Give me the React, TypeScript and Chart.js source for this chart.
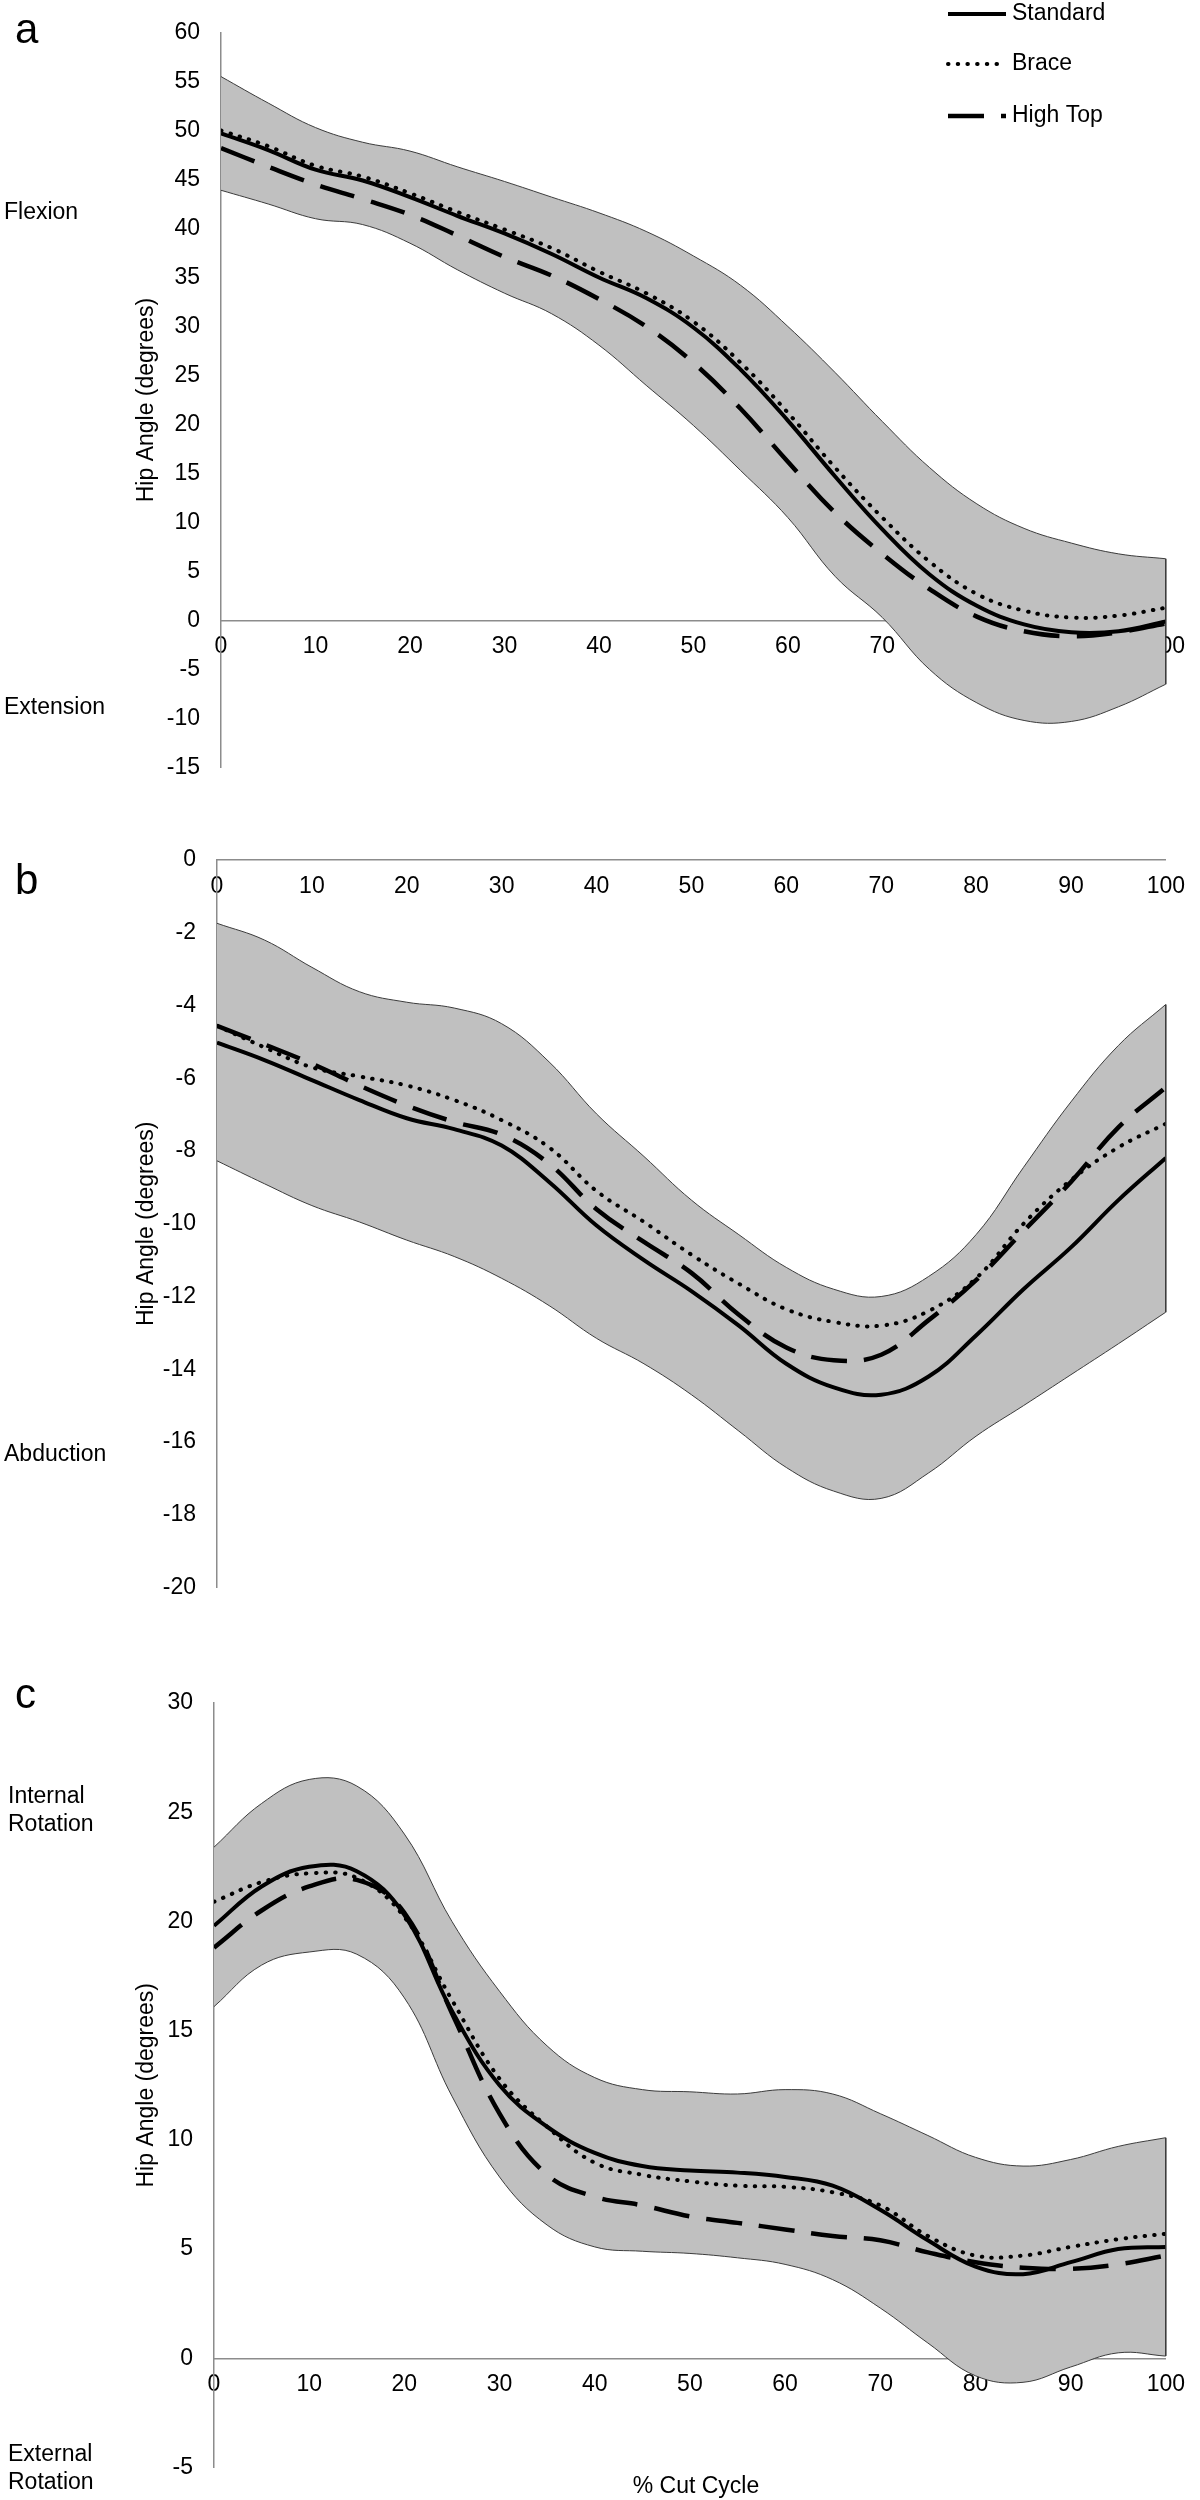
import React, { useEffect, useRef } from "react";
import { Chart, registerables } from "chart.js";

Chart.register(...registerables);

const FONT = "'Liberation Sans', Arial, Helvetica, sans-serif";
Chart.defaults.color = "#000";
Chart.defaults.font.family = FONT;

// % of cut cycle (x values)
const CYCLE = [0, 5, 10, 15, 20, 25, 30, 35, 40, 45, 50, 55, 60, 65, 70, 75, 80, 85, 90, 95, 100];
const SERIES_LABELS = ["Standard", "Brace", "High Top"];

// Panel a: flexion / extension
const A_STANDARD = [49.7, 48.0, 46.0, 44.9, 43.2, 41.3, 39.5, 37.4, 35.0, 32.9, 29.9, 25.6, 20.4, 14.7, 9.3, 4.7, 1.5, -0.4, -1.2, -1.1, -0.1];
const A_BRACE = [50.0, 48.4, 46.4, 45.3, 43.6, 41.7, 39.9, 38.0, 35.6, 33.4, 30.5, 26.3, 21.2, 15.6, 10.5, 6.0, 2.7, 1.0, 0.3, 0.5, 1.3];
const A_HIGHTOP = [48.2, 46.3, 44.5, 43.0, 41.4, 39.3, 37.1, 35.2, 32.8, 30.0, 26.3, 21.6, 16.2, 11.0, 6.8, 3.2, 0.4, -1.1, -1.6, -1.2, -0.3];
const A_UPPER = [55.5, 52.8, 50.3, 48.8, 47.9, 46.3, 44.8, 43.2, 41.6, 39.7, 37.2, 34.2, 30.0, 25.3, 20.3, 15.6, 11.9, 9.4, 7.9, 6.8, 6.3];
const A_LOWER = [43.9, 42.5, 41.0, 40.4, 38.5, 35.8, 33.4, 31.3, 28.1, 24.0, 19.9, 15.3, 10.5, 4.5, 0.3, -5.0, -8.4, -10.2, -10.3, -8.8, -6.5];

// Panel b: abduction / adduction
const B_STANDARD = [-5.02, -5.5, -6.05, -6.6, -7.1, -7.4, -7.85, -8.85, -10.05, -11.0, -11.85, -12.8, -13.85, -14.5, -14.7, -14.2, -13.07, -11.8, -10.65, -9.35, -8.19];
const B_BRACE = [-4.56, -5.15, -5.7, -5.95, -6.2, -6.6, -7.15, -7.9, -9.1, -9.95, -10.85, -11.65, -12.35, -12.7, -12.8, -12.4, -11.5, -10.0, -8.8, -7.9, -7.25];
const B_HIGHTOP = [-4.56, -5.07, -5.6, -6.2, -6.75, -7.2, -7.55, -8.35, -9.6, -10.5, -11.35, -12.5, -13.4, -13.75, -13.6, -12.65, -11.55, -10.2, -8.85, -7.35, -6.25];
const B_UPPER = [-1.74, -2.2, -2.95, -3.62, -3.91, -4.07, -4.5, -5.55, -6.98, -8.15, -9.35, -10.3, -11.2, -11.8, -12.0, -11.45, -10.3, -8.45, -6.65, -5.1, -3.97];
const B_LOWER = [-8.27, -8.9, -9.5, -9.95, -10.45, -10.9, -11.5, -12.25, -13.15, -13.85, -14.7, -15.7, -16.7, -17.35, -17.55, -16.85, -15.84, -15.0, -14.15, -13.3, -12.43];

// Panel c: internal / external rotation
const C_STANDARD = [19.8, 21.6, 22.5, 22.3, 20.3, 15.9, 12.5, 10.6, 9.4, 8.8, 8.6, 8.5, 8.3, 7.9, 6.8, 5.4, 4.2, 3.85, 4.4, 5.0, 5.1];
const C_BRACE = [20.9, 21.8, 22.2, 22.0, 20.2, 16.4, 12.8, 10.6, 8.95, 8.4, 8.1, 7.9, 7.85, 7.6, 7.0, 5.6, 4.7, 4.7, 5.1, 5.45, 5.7];
const C_HIGHTOP = [18.8, 20.5, 21.6, 21.9, 20.4, 15.8, 11.2, 8.4, 7.4, 7.0, 6.5, 6.2, 5.9, 5.6, 5.4, 4.85, 4.4, 4.15, 4.1, 4.3, 4.7];
const C_UPPER = [23.4, 25.4, 26.5, 26.2, 24.0, 20.0, 16.8, 14.3, 12.85, 12.3, 12.2, 12.1, 12.3, 12.1, 11.2, 10.2, 9.2, 8.8, 9.1, 9.7, 10.1];
const C_LOWER = [16.1, 18.0, 18.6, 18.5, 16.5, 12.0, 8.3, 6.1, 5.1, 4.9, 4.8, 4.6, 4.3, 3.6, 2.3, 0.7, -0.8, -1.1, -0.4, 0.25, 0.1];

const LINE_STYLES = [
  { borderDash: [] as number[], borderWidth: 4, borderCapStyle: "butt" },
  { borderDash: [0.5, 9.2], borderWidth: 4, borderCapStyle: "round" },
  { borderDash: [36, 17], borderWidth: 4.5, borderCapStyle: "butt" },
];

type TextItem = {
  text: string;
  x: number;
  y: number;
  size: number;
  align?: CanvasTextAlign;
  baseline?: CanvasTextBaseline;
};

type PanelSpec = {
  top: number;
  height: number;
  padTop: number;
  padBottom: number;
  padRight: number;
  axisX: number;
  yMin: number;
  yMax: number;
  yStep: number;
  means: number[][];
  upper: number[];
  lower: number[];
  texts: TextItem[];
  legend: boolean;
};

const pts = (vals: number[]) => CYCLE.map((x, i) => ({ x, y: vals[i] }));

function makeOverlay(spec: PanelSpec) {
  return {
    id: "overlay",
    afterDatasetsDraw(chart: any) {
      const ctx = chart.ctx;
      const lo = chart.getDatasetMeta(3);
      const up = chart.getDatasetMeta(4);
      const pl = lo.data[lo.data.length - 1];
      const pu = up.data[up.data.length - 1];
      ctx.save();
      ctx.beginPath();
      ctx.moveTo(pu.x, pu.y);
      ctx.lineTo(pl.x, pl.y);
      ctx.strokeStyle = "#333";
      ctx.lineWidth = 1.5;
      ctx.stroke();
      ctx.restore();
    },
    afterDraw(chart: any) {
      const ctx = chart.ctx;
      ctx.save();
      ctx.fillStyle = "#000";
      for (const t of spec.texts) {
        ctx.font = `${t.size}px ${FONT}`;
        ctx.textAlign = t.align || "left";
        ctx.textBaseline = t.baseline || "middle";
        ctx.fillText(t.text, t.x, t.y);
      }
      if (spec.legend) {
        const rowsY = [14, 64, 116];
        for (let i = 0; i < 3; i++) {
          const ds = chart.data.datasets[i];
          const y = rowsY[i];
          ctx.beginPath();
          ctx.setLineDash(ds.borderDash || []);
          ctx.lineCap = ds.borderCapStyle || "butt";
          ctx.lineWidth = ds.borderWidth;
          ctx.strokeStyle = "#000";
          ctx.moveTo(948, y);
          ctx.lineTo(1006, y);
          ctx.stroke();
          ctx.setLineDash([]);
          ctx.font = `23px ${FONT}`;
          ctx.textAlign = "left";
          ctx.textBaseline = "middle";
          ctx.fillText(ds.label, 1012, y);
        }
      }
      ctx.restore();
    },
  };
}

function buildConfig(spec: PanelSpec): any {
  const tickFont = { family: FONT, size: 23, lineHeight: 1 };
  const border = { display: true, color: "#8c8c8c", width: 1.5 };
  const common = { pointRadius: 0, tension: 0.4 };
  return {
    type: "line",
    data: {
      datasets: [
        ...SERIES_LABELS.map((label, i) => ({
          label,
          data: pts(spec.means[i]),
          borderColor: "#000",
          ...LINE_STYLES[i],
          ...common,
          fill: false,
        })),
        {
          label: "Lower SD",
          data: pts(spec.lower),
          borderColor: "#3c3c3c",
          borderWidth: 1,
          ...common,
          fill: false,
        },
        {
          label: "Upper SD",
          data: pts(spec.upper),
          borderColor: "#3c3c3c",
          borderWidth: 1,
          ...common,
          fill: "-1",
          backgroundColor: "#c0c0c0",
        },
      ],
    },
    options: {
      responsive: false,
      animation: false,
      devicePixelRatio: 1,
      events: [],
      layout: {
        padding: { left: 0, right: spec.padRight, top: spec.padTop, bottom: spec.padBottom },
      },
      plugins: { legend: { display: false }, tooltip: { enabled: false } },
      scales: {
        x: {
          type: "linear",
          min: 0,
          max: 100,
          position: { y: 0 },
          ticks: { stepSize: 10, font: tickFont, color: "#000", padding: 15, maxRotation: 0, autoSkip: false },
          grid: { display: false, drawTicks: false },
          border,
        },
        y: {
          type: "linear",
          position: "left",
          min: spec.yMin,
          max: spec.yMax,
          ticks: { stepSize: spec.yStep, font: tickFont, color: "#000", padding: 21, autoSkip: false },
          grid: { display: false, drawTicks: false },
          border,
          title: {
            display: true,
            text: "Hip Angle (degrees)",
            color: "#000",
            font: { family: FONT, size: 23 },
            padding: { top: 133, bottom: 0 },
          },
          afterFit: (s: any) => {
            s.width = spec.axisX;
          },
        },
      },
    },
    plugins: [makeOverlay(spec)],
  };
}

const PANELS: PanelSpec[] = [
  {
    top: 0,
    height: 800,
    padTop: 12,
    padBottom: 27,
    padRight: 22,
    axisX: 221,
    yMin: -15,
    yMax: 60,
    yStep: 5,
    means: [A_STANDARD, A_BRACE, A_HIGHTOP],
    upper: A_UPPER,
    lower: A_LOWER,
    legend: true,
    texts: [
      { text: "a", x: 15, y: 43, size: 42, baseline: "alphabetic" },
      { text: "Flexion", x: 4, y: 213, size: 23 },
      { text: "Extension", x: 4, y: 708, size: 23 },
    ],
  },
  {
    top: 810,
    height: 810,
    padTop: 50,
    padBottom: 15,
    padRight: 25,
    axisX: 217,
    yMin: -20,
    yMax: 0,
    yStep: 2,
    means: [B_STANDARD, B_BRACE, B_HIGHTOP],
    upper: B_UPPER,
    lower: B_LOWER,
    legend: false,
    texts: [
      { text: "b", x: 15, y: 84, size: 42, baseline: "alphabetic" },
      { text: "Abduction", x: 4, y: 645, size: 23 },
    ],
  },
  {
    top: 1630,
    height: 870,
    padTop: 73,
    padBottom: 32,
    padRight: 22,
    axisX: 214,
    yMin: -5,
    yMax: 30,
    yStep: 5,
    means: [C_STANDARD, C_BRACE, C_HIGHTOP],
    upper: C_UPPER,
    lower: C_LOWER,
    legend: false,
    texts: [
      { text: "c", x: 15, y: 78, size: 42, baseline: "alphabetic" },
      { text: "Internal", x: 8, y: 167, size: 23 },
      { text: "Rotation", x: 8, y: 195, size: 23 },
      { text: "External", x: 8, y: 825, size: 23 },
      { text: "Rotation", x: 8, y: 853, size: 23 },
      { text: "% Cut Cycle", x: 696, y: 857, size: 23, align: "center" },
    ],
  },
];

function Panel({ spec }: { spec: PanelSpec }) {
  const ref = useRef<HTMLCanvasElement>(null);
  useEffect(() => {
    if (!ref.current) return;
    const chart = new Chart(ref.current, buildConfig(spec));
    return () => chart.destroy();
  }, [spec]);
  return (
    <canvas
      ref={ref}
      width={1200}
      height={spec.height}
      style={{ position: "absolute", left: 0, top: spec.top, width: 1200, height: spec.height }}
    />
  );
}

export default function App() {
  return (
    <div style={{ position: "absolute", left: 0, top: 0, width: 1200, height: 2500, background: "#fff" }}>
      {PANELS.map((p, i) => (
        <Panel key={i} spec={p} />
      ))}
    </div>
  );
}
